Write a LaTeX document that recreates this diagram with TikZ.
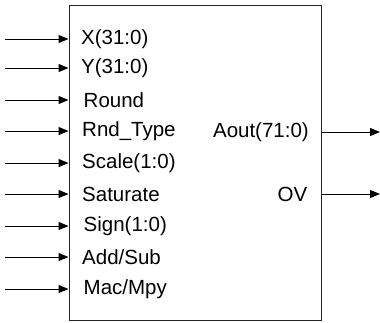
\documentclass[tikz,border=0pt]{standalone}
\usepackage{fontspec}
\setmainfont{Liberation Sans}
\usetikzlibrary{arrows.meta}
\begin{document}
\begin{tikzpicture}[x=1pt,y=1pt,
  sig/.style={line width=1pt,-{Triangle[length=10pt,width=8pt]}},
  lbl/.style={inner sep=0pt,font=\fontsize{20.5}{24}\selectfont},
  blk/.style={draw=black!85,line width=1.3pt}]
\useasboundingbox (0,0) rectangle (380,-322);
\node[blk,minimum width=252pt,minimum height=315pt,anchor=north west,inner sep=0pt] (box) at (68.5,-5) {};
% inputs
\foreach \n/\y/\t/\dx in {1/39/{X(31:0)}/81,2/68/{Y(31:0)}/81,3/100/{Round}/83.5,4/131/{Rnd\_Type}/82,5/163/{Scale(1:0)}/82,6/194/{Saturate}/82,7/226/{Sign(1:0)}/83.5,8/257/{Add/Sub}/82,9/289/{Mac/Mpy}/83.5}{
  \coordinate (in\n) at (5,-\y);
  \node[lbl,anchor=west] (l\n) at (\dx,-\y) {\t};
  \draw[sig] (in\n) -- (in\n -| box.west);
}
% outputs
\node[lbl,anchor=east] (lo1) at (309,-132) {Aout(71:0)};
\node[lbl,anchor=east] (lo2) at (307.5,-194) {OV};
\coordinate (out1) at (380,-132);
\coordinate (out2) at (380,-194);
\draw[sig] (out1 -| box.east) -- (out1);
\draw[sig] (out2 -| box.east) -- (out2);
\end{tikzpicture}
\end{document}
